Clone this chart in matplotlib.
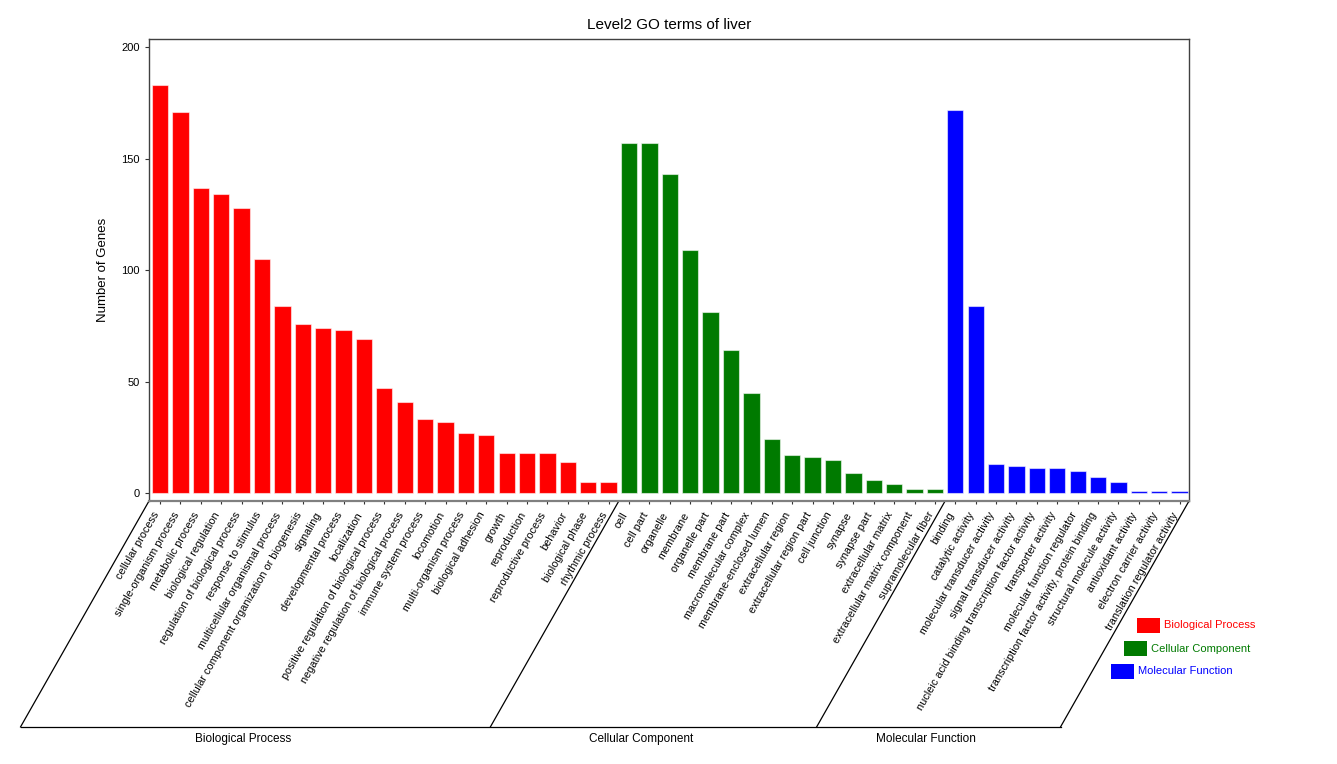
import matplotlib
matplotlib.use("Agg")
import matplotlib.pyplot as plt
from matplotlib.patches import Rectangle
from matplotlib.lines import Line2D
from matplotlib.transforms import ScaledTranslation

plt.rcParams['font.family'] = ['Liberation Sans', 'DejaVu Sans']

# GO level 2 terms and gene counts
bp_terms = ["cellular process", "single-organism process", "metabolic process",
            "biological regulation", "regulation of biological process",
            "response to stimulus", "multicellular organismal process",
            "cellular component organization or biogenesis", "signaling",
            "developmental process", "localization",
            "positive regulation of biological process",
            "negative regulation of biological process", "immune system process",
            "locomotion", "multi-organism process", "biological adhesion", "growth",
            "reproduction", "reproductive process", "behavior", "biological phase",
            "rhythmic process"]
bp_counts = [183, 171, 137, 134, 128, 105, 84, 76, 74, 73, 69, 47, 41, 33, 32,
             27, 26, 18, 18, 18, 14, 5, 5]

cc_terms = ["cell", "cell part", "organelle", "membrane", "organelle part",
            "membrane part", "macromolecular complex", "membrane-enclosed lumen",
            "extracellular region", "extracellular region part", "cell junction",
            "synapse", "synapse part", "extracellular matrix",
            "extracellular matrix component", "supramolecular fiber"]
cc_counts = [157, 157, 143, 109, 81, 64, 45, 24, 17, 16, 15, 9, 6, 4, 2, 2]

mf_terms = ["binding", "catalytic activity", "molecular transducer activity",
            "signal transducer activity",
            "nucleic acid binding transcription factor activity",
            "transporter activity", "molecular function regulator",
            "transcription factor activity, protein binding",
            "structural molecule activity", "antioxidant activity",
            "electron carrier activity", "translation regulator activity"]
mf_counts = [172, 84, 13, 12, 11, 11, 10, 7, 5, 1, 1, 1]

groups = ["Biological Process", "Cellular Component", "Molecular Function"]
colors = ["#ff0000", "#007a00", "#0000ff"]

fig = plt.figure(figsize=(13.37, 7.64), dpi=100)
W, H = 1337, 764
ax = fig.add_axes([149 / W, (H - 501) / H, (1189 - 149) / W, (501 - 39) / H])

terms = bp_terms + cc_terms + mf_terms
counts = bp_counts + cc_counts + mf_counts
sizes = [len(bp_terms), len(cc_terms), len(mf_terms)]
bar_colors = []
for c, n in zip(colors, sizes):
    bar_colors += [c] * n

x = list(range(len(terms)))
ax.bar(x, counts, width=0.8, color=bar_colors,
       edgecolor=(1, 1, 1, 0.55), linewidth=0.8)

ax.set_xlim(-0.54, len(terms) - 0.54)
ax.set_ylim(-3.6, 203.7)
ax.set_yticks([0, 50, 100, 150, 200])
ax.set_xticks(x)
ax.set_xticklabels(terms, rotation=60, ha='right', va='center',
                   rotation_mode='anchor', fontsize=7.8)
ax.tick_params(axis='x', length=2.5, width=0.8, pad=6, colors='#333333',
               labelcolor='black')
ax.tick_params(axis='y', length=3, width=0.8, labelsize=8, colors='#333333',
               labelcolor='black')
# nudge the slanted labels a little to the left of their ticks
shift = ScaledTranslation(-3.5 / 100, 0, fig.dpi_scale_trans)
for lab in ax.get_xticklabels():
    lab.set_transform(lab.get_transform() + shift)

for s in ax.spines.values():
    s.set_color('#404040')
    s.set_linewidth(1.0)
ax.spines['bottom'].set_color('#808080')
ax.spines['bottom'].set_linewidth(1.6)

ax.set_title("Level2 GO terms of liver", fontsize=11, pad=7)
ax.set_ylabel("Number of Genes", fontsize=9.5, labelpad=9)

# slanted group separators below the axis
tr = ax.get_xaxis_transform()
y_base = -0.489
slant = 6.3
bounds = [-0.54]
acc = 0
for n in sizes:
    acc += n
    bounds.append(acc - 0.5)
bounds[-1] = len(terms) - 0.54
for b in bounds:
    ax.add_line(Line2D([b, b - slant], [0, y_base], transform=tr,
                       color='black', lw=0.9, clip_on=False))
ax.add_line(Line2D([bounds[0] - slant, bounds[-1] - slant], [y_base, y_base],
                   transform=tr, color='black', lw=0.9, clip_on=False))
for i, g in enumerate(groups):
    xc = (bounds[i] + bounds[i + 1]) / 2 - slant - 0.6
    ax.text(xc, y_base - 0.014, g, transform=tr, ha='center', va='top',
            fontsize=8.5)

# staggered legend
leg_x = [1137, 1124, 1111]
leg_y = [618, 641, 664]
for g, c, lx, ly in zip(groups, colors, leg_x, leg_y):
    fig.patches.append(Rectangle((lx / W, (H - ly - 15) / H), 23 / W, 15 / H,
                                 transform=fig.transFigure, facecolor=c,
                                 edgecolor='none'))
    fig.text((lx + 27) / W, (H - ly - 7.5) / H, g, color=c, fontsize=8,
             ha='left', va='center')

fig.savefig("out.png", dpi=100)
